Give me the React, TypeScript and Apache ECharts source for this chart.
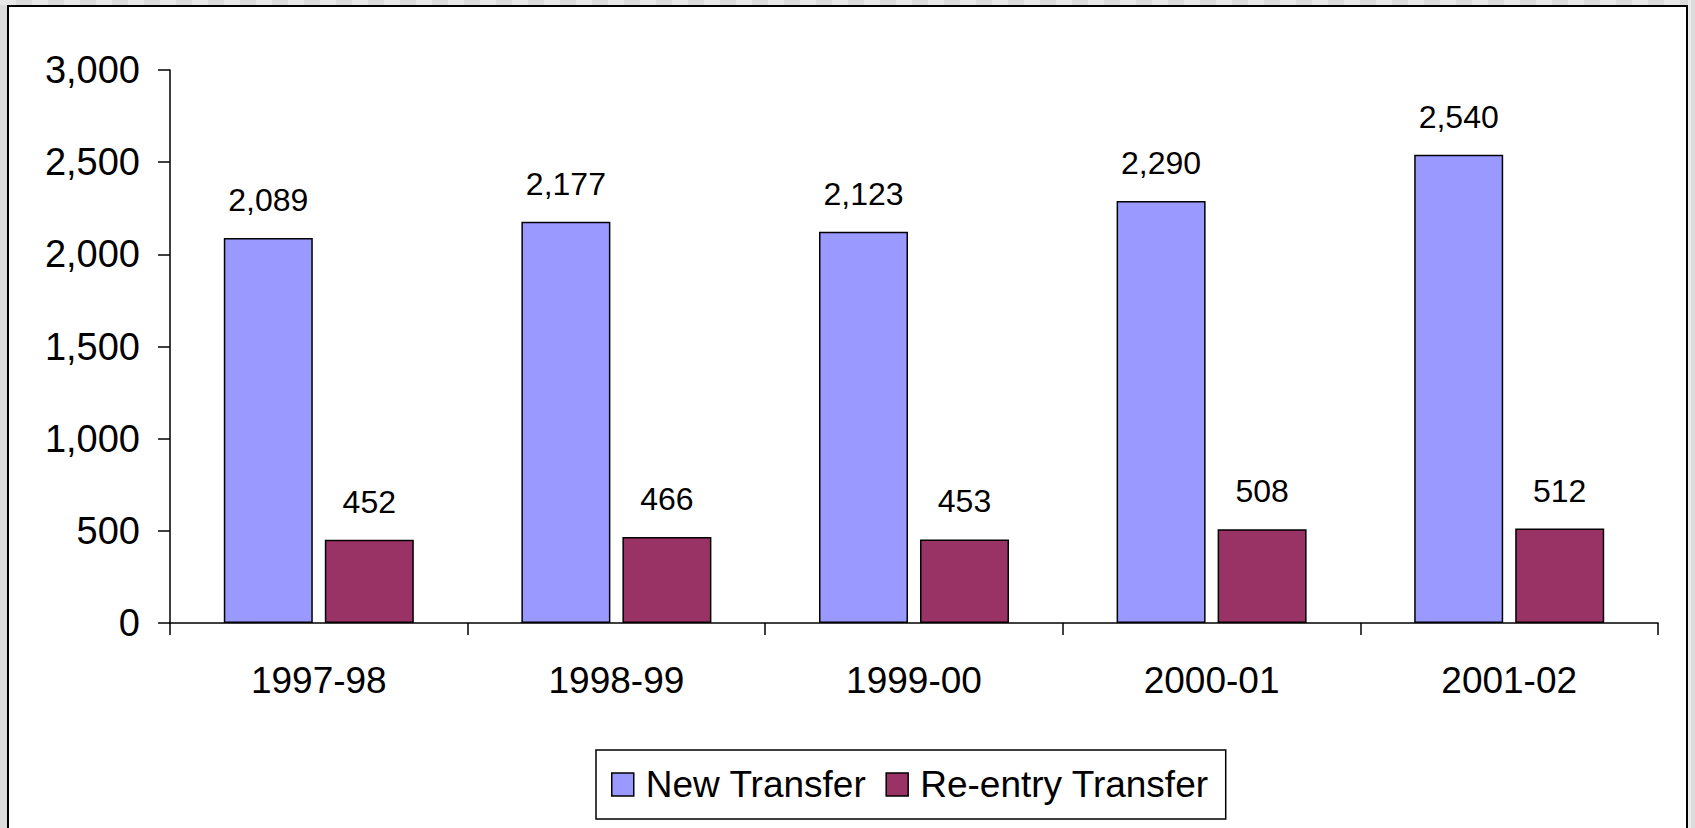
import React, { useEffect, useRef } from "react";
import * as echarts from "echarts";

const categories = ["1997-98", "1998-99", "1999-00", "2000-01", "2001-02"];
const newTransfer = [2089, 2177, 2123, 2290, 2540];
const reentryTransfer = [452, 466, 453, 508, 512];
const seriesNames = ["New Transfer", "Re-entry Transfer"];

const FONT = "'Liberation Sans', Arial, Helvetica, sans-serif";

const fmt = (v: number) => v.toLocaleString("en-US");

export default function App() {
  const ref = useRef<HTMLDivElement>(null);

  useEffect(() => {
    if (!ref.current) return;
    const chart = echarts.init(ref.current, undefined, { renderer: "svg" });
    const labelCommon = {
      show: true,
      position: "top" as const,
      distance: 22,
      color: "#000",
      fontFamily: FONT,
      fontSize: 32,
      formatter: (p: any) => fmt(p.value),
    };
    chart.setOption({
      animation: false,
      backgroundColor: "transparent",
      grid: { left: 170, right: 37, top: 70, bottom: 205, containLabel: false },
      legend: {
        data: seriesNames,
        left: 596,
        top: 750,
        orient: "horizontal",
        icon: "rect",
        padding: [14, 17, 14, 15],
        itemGap: 19,
        itemWidth: 22,
        itemHeight: 23,
        borderColor: "#000",
        borderWidth: 1.5,
        backgroundColor: "#fff",
        itemStyle: { borderColor: "#000", borderWidth: 1.5 },
        textStyle: {
          color: "#000",
          fontFamily: FONT,
          fontSize: 37,
          lineHeight: 41,
          padding: [0, 0, 0, 7],
        },
      },
      xAxis: {
        type: "category",
        data: categories,
        boundaryGap: true,
        axisLine: { show: true, lineStyle: { color: "#000", width: 1.5 } },
        axisTick: { show: true, inside: false, length: 12, alignWithLabel: false, lineStyle: { color: "#000", width: 1.5 } },
        axisLabel: { color: "#000", fontFamily: FONT, fontSize: 37, margin: 39 },
        splitLine: { show: false },
      },
      yAxis: {
        type: "value",
        min: 0,
        max: 3000,
        interval: 500,
        axisLine: { show: true, lineStyle: { color: "#000", width: 1.5 } },
        axisTick: { show: true, inside: false, length: 12, lineStyle: { color: "#000", width: 1.5 } },
        axisLabel: { color: "#000", fontFamily: FONT, fontSize: 38, margin: 30, formatter: (v: number) => fmt(v) },
        splitLine: { show: false },
      },
      series: [
        {
          name: seriesNames[0],
          type: "bar",
          data: newTransfer,
          barWidth: 89,
          barGap: "13.5%",
          itemStyle: { color: "#9999FF", borderColor: "#000", borderWidth: 1.5 },
          label: labelCommon,
        },
        {
          name: seriesNames[1],
          type: "bar",
          data: reentryTransfer,
          barWidth: 89,
          barGap: "13.5%",
          itemStyle: { color: "#993366", borderColor: "#000", borderWidth: 1.5 },
          label: labelCommon,
        },
      ],
    });
    return () => chart.dispose();
  }, []);

  return (
    <div
      style={{
        position: "fixed",
        left: 0,
        top: 0,
        width: 1695,
        height: 828,
        overflow: "hidden",
        background: "#dcdcdc",
      }}
    >
      <div
        style={{
          position: "absolute",
          left: 0,
          top: 0,
          width: 1695,
          height: 5,
          background: "repeating-linear-gradient(90deg, #e8e8e8 0px, #e8e8e8 16px, #dcdcdc 16px, #dcdcdc 32px)",
        }}
      />
      <div
        style={{
          position: "absolute",
          left: 1688,
          top: 0,
          width: 3,
          height: 828,
          background: "#ececec",
        }}
      />
      <div
        style={{
          position: "absolute",
          left: 7,
          top: 5,
          width: 1681,
          height: 860,
          boxSizing: "border-box",
          border: "2px solid #000",
          background: "#fff",
        }}
      />
      <div ref={ref} style={{ position: "absolute", left: 0, top: 0, width: 1695, height: 828 }} />
    </div>
  );
}
